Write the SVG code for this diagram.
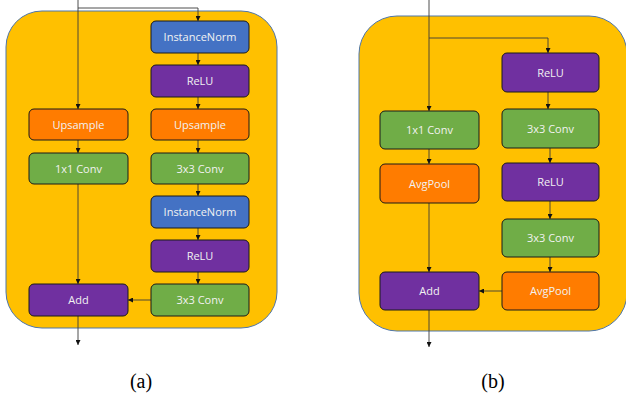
<svg xmlns="http://www.w3.org/2000/svg" width="626" height="396" viewBox="0 0 626 396">
<defs>
<marker id="ah" markerUnits="userSpaceOnUse" markerWidth="6" markerHeight="5" refX="5" refY="2.5" orient="auto">
<path d="M0,0 L5,2.5 L0,5 Z" fill="#111"/>
</marker>
<style>
.panel{fill:#FFC000;stroke:#4F76A8;stroke-width:1}
.box{stroke:#1a1a1a;stroke-width:1}
.blue{fill:#4472C4}.purple{fill:#7030A0}.orange{fill:#FF7C00}.green{fill:#70AD47}
.t{font-family:"Open Sans","Noto Sans",sans-serif;font-size:11px;fill:#F2F2F2;text-anchor:middle}
.c{fill:none;stroke:#3a3a3a;stroke-width:0.9}
.a{marker-end:url(#ah)}
.lab{font-family:"Liberation Serif",serif;font-size:20px;fill:#000;text-anchor:middle}
</style>
</defs>
<rect class="panel" x="6" y="11" width="271" height="317" rx="36"/>
<rect class="panel" x="359" y="16" width="268" height="315" rx="38"/>
<g id="connectors">
<path class="c a" d="M78,0 V109"/>
<path class="c a" d="M78,8 H198 V21"/>
<path class="c a" d="M198,53 V65"/>
<path class="c a" d="M198,97 V109"/>
<path class="c a" d="M198,140 V153"/>
<path class="c a" d="M198,184 V196"/>
<path class="c a" d="M198,228 V240"/>
<path class="c a" d="M198,272 V284"/>
<path class="c a" d="M78,140 V153"/>
<path class="c a" d="M78,184 V284"/>
<path class="c a" d="M151,300 H128"/>
<path class="c a" d="M78,316 V345"/>
<path class="c a" d="M429,0 V111"/>
<path class="c a" d="M429,38 H548 V53"/>
<path class="c a" d="M548,92 V109"/>
<path class="c a" d="M550,148 V163"/>
<path class="c a" d="M550,201 V219"/>
<path class="c a" d="M550,257 V272"/>
<path class="c a" d="M429,149 V164"/>
<path class="c a" d="M429,203 V272"/>
<path class="c a" d="M502,291 H479"/>
<path class="c a" d="M429,310 V347"/>
</g>
<g id="a_in1"><rect class="box blue" x="151" y="21" width="98" height="32" rx="5"/><text class="t" x="200" y="41">InstanceNorm</text></g>
<g id="a_relu1"><rect class="box purple" x="151" y="65" width="98" height="32" rx="5"/><text class="t" x="200" y="85">ReLU</text></g>
<g id="a_up2"><rect class="box orange" x="151" y="109" width="98" height="31" rx="5"/><text class="t" x="200" y="129">Upsample</text></g>
<g id="a_conv3a"><rect class="box green" x="151" y="153" width="98" height="31" rx="5"/><text class="t" x="200" y="173">3x3 Conv</text></g>
<g id="a_in2"><rect class="box blue" x="151" y="196" width="98" height="32" rx="5"/><text class="t" x="200" y="216">InstanceNorm</text></g>
<g id="a_relu2"><rect class="box purple" x="151" y="240" width="98" height="32" rx="5"/><text class="t" x="200" y="260">ReLU</text></g>
<g id="a_conv3b"><rect class="box green" x="151" y="284" width="98" height="32" rx="5"/><text class="t" x="200" y="304">3x3 Conv</text></g>
<g id="a_up1"><rect class="box orange" x="29" y="109" width="99" height="31" rx="5"/><text class="t" x="78.5" y="129">Upsample</text></g>
<g id="a_conv1"><rect class="box green" x="29" y="153" width="99" height="31" rx="5"/><text class="t" x="78.5" y="173">1x1 Conv</text></g>
<g id="a_add"><rect class="box purple" x="29" y="284" width="99" height="32" rx="5"/><text class="t" x="78.5" y="304">Add</text></g>
<g id="b_relu1"><rect class="box purple" x="502" y="53" width="97" height="39" rx="5"/><text class="t" x="550.5" y="77">ReLU</text></g>
<g id="b_conv3a"><rect class="box green" x="502" y="109" width="97" height="39" rx="5"/><text class="t" x="550.5" y="133">3x3 Conv</text></g>
<g id="b_relu2"><rect class="box purple" x="502" y="163" width="97" height="38" rx="5"/><text class="t" x="550.5" y="186">ReLU</text></g>
<g id="b_conv3b"><rect class="box green" x="502" y="219" width="97" height="38" rx="5"/><text class="t" x="550.5" y="242">3x3 Conv</text></g>
<g id="b_pool2"><rect class="box orange" x="502" y="272" width="97" height="38" rx="5"/><text class="t" x="550.5" y="295">AvgPool</text></g>
<g id="b_conv1"><rect class="box green" x="380" y="111" width="99" height="38" rx="5"/><text class="t" x="429.5" y="134">1x1 Conv</text></g>
<g id="b_pool1"><rect class="box orange" x="380" y="164" width="99" height="39" rx="5"/><text class="t" x="429.5" y="188">AvgPool</text></g>
<g id="b_add"><rect class="box purple" x="380" y="272" width="99" height="38" rx="5"/><text class="t" x="429.5" y="295">Add</text></g>
<text class="lab" x="141" y="388">(a)</text>
<text class="lab" x="493" y="388">(b)</text>
</svg>
